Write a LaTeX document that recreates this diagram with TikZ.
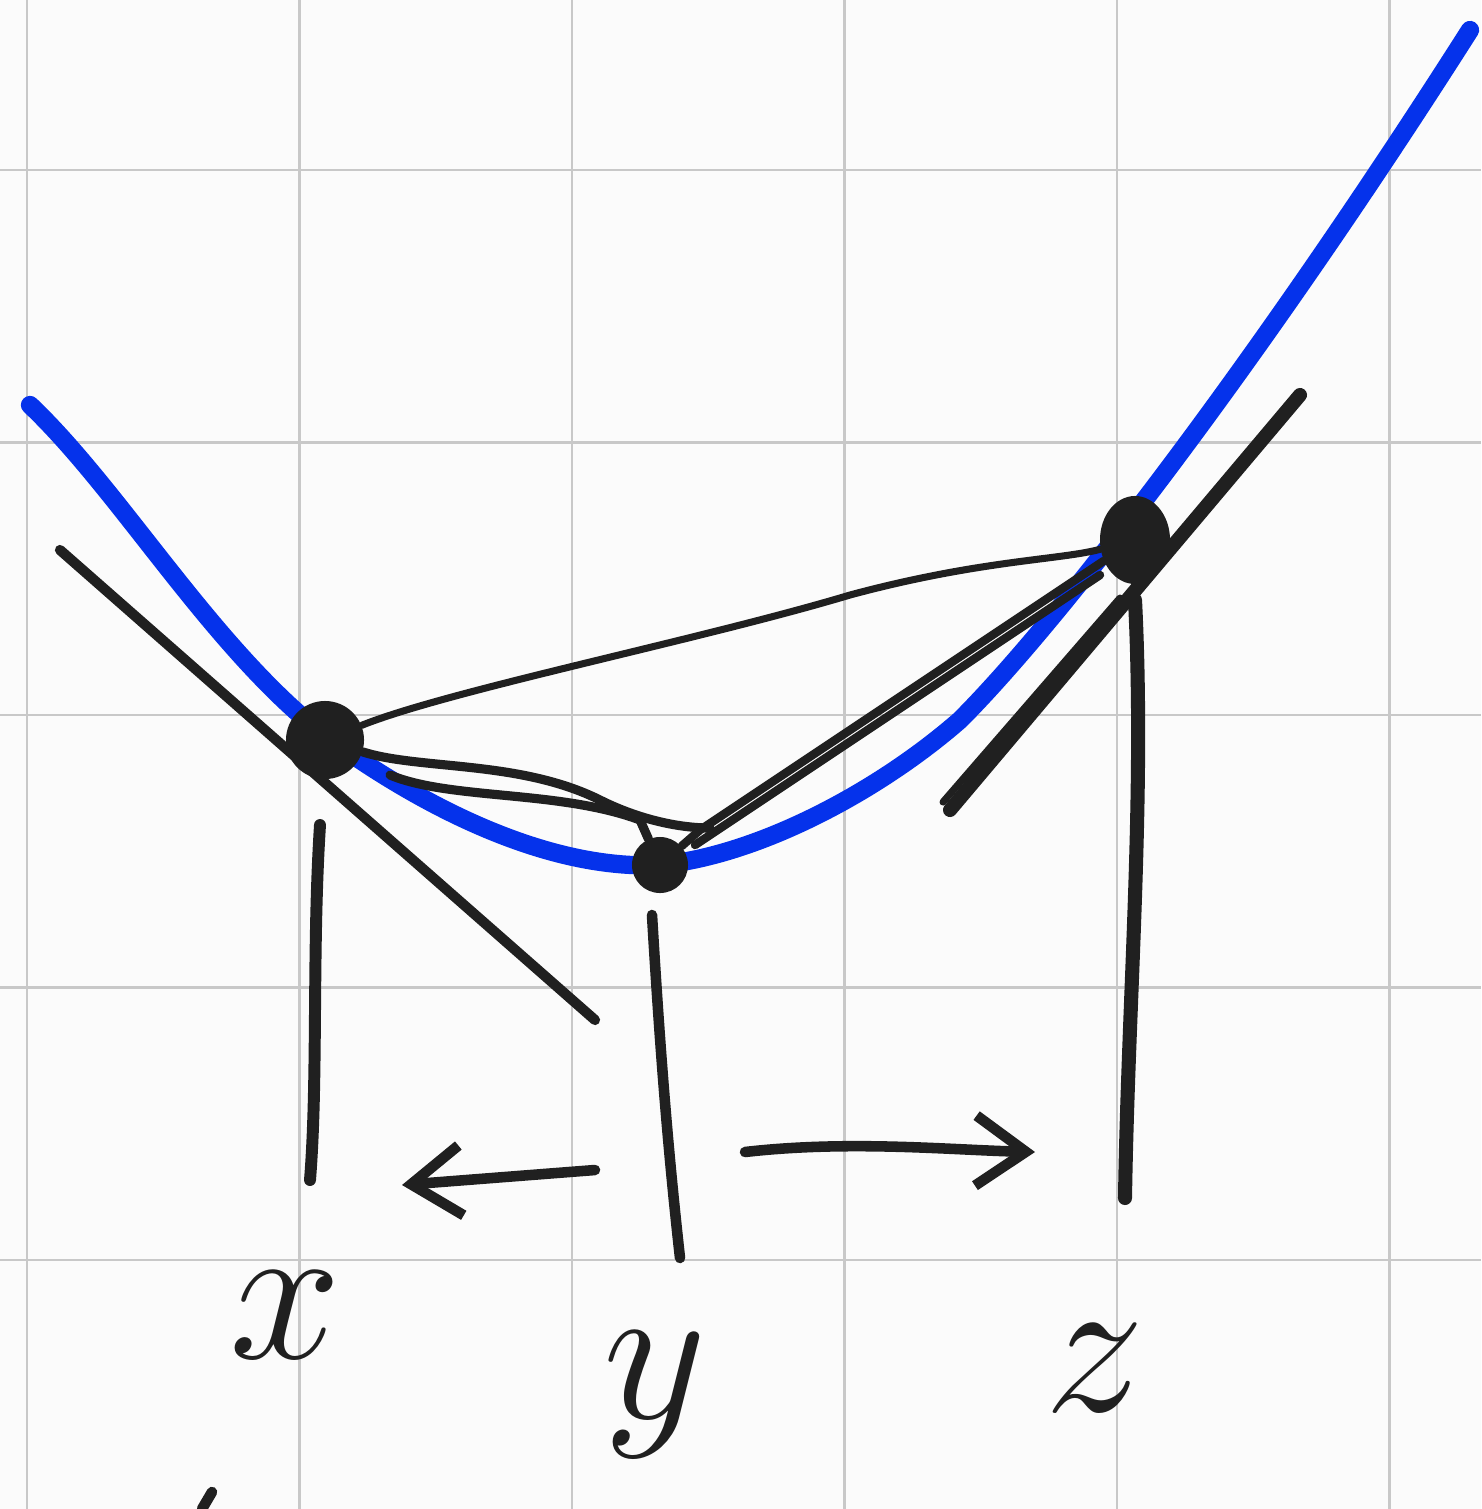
\documentclass[tikz,border=0pt]{standalone}
\usepackage{amsmath,amssymb}
\usepackage{tikz}
\usetikzlibrary{arrows.meta,calc,shapes.geometric}
\definecolor{paper}{RGB}{251,251,251}
\definecolor{gridc}{RGB}{200,200,200}
\definecolor{ink}{RGB}{32,32,32}
\definecolor{pen}{RGB}{5,50,235}

\begin{document}
\begin{tikzpicture}[
  x=0.01cm,y=-0.01cm,
  gl/.style={gridc,line width=0.8pt},
  fn/.style={pen,line width=5.2pt,line cap=round,line join=round},
  tg/.style={ink,line width=2.9pt,line cap=round},
  sec/.style={ink,line width=2pt,line cap=round},
  vl/.style={ink,line width=3.4pt,line cap=round},
  pt/.style={circle,fill=ink,inner sep=0pt},
  lbl/.style={ink,font=\Huge,scale=2.3},
  fl/.style={ink,line width=3pt,line cap=round,-{Straight Barb[length=5mm,width=7mm,line width=3pt]}},
]
\useasboundingbox (0,0) rectangle (1481,1509);
\fill[paper] (0,0) rectangle (1481,1509);
% grid
\foreach \gx in {27,299.5,572,844.5,1117,1389.5}
  \draw[gl] (\gx,0) -- (\gx,1509);
\foreach \gy in {170,442.5,715,987.5,1260}
  \draw[gl] (0,\gy) -- (1481,\gy);
% convex function
\draw[fn] (30,405) .. controls (130,500) and (230,680) .. (360,760)
  .. controls (450,820) and (560,870) .. (660,865)
  .. controls (760,855) and (880,790) .. (960,720)
  .. controls (1060,620) and (1260,360) .. (1470,30);
% points on the curve
\node[pt,minimum size=0.78cm] (px) at (325,740) {};
\node[pt,minimum size=0.56cm] (py) at (660,865) {};
\node[pt,ellipse,minimum width=0.70cm,minimum height=0.88cm] (pz) at (1135,540) {};
% tangent lines
\coordinate (tx1) at (60,550);
\coordinate (tx2) at (595,1020);
\draw[tg] (tx1) -- (tx2);
\coordinate (tz1) at (950,810);
\coordinate (tz2) at (1300,395);
\draw[tg,line width=4pt] (tz1) -- (tz2);
\draw[sec] (943,802) -- (1120,598);
% secants
\draw[sec] (px) .. controls (450,690) and (700,640) .. (850,595)
  .. controls (980,560) and (1060,560) .. (pz);
\draw[sec,line width=2.6pt] (px) .. controls (420,770) and (520,760) .. (600,800)
  .. controls (640,820) and (680,828) .. (710,828);
\draw[sec,line width=2.6pt] (390,775) .. controls (450,800) and (560,790) .. (640,820)
  -- (py);
\draw[sec,line width=2.4pt] (py) -- (700,830) -- (pz);
\draw[sec,line width=2.4pt] (695,845) -- (1100,575);
% verticals down to the axis
\coordinate (vx1) at (320,825);
\coordinate (vx2) at (310,1180);
\draw[vl] (vx1) .. controls (312,950) and (318,1080) .. (vx2);
\coordinate (vy1) at (652,915);
\coordinate (vy2) at (680,1258);
\draw[vl,line width=3pt] (vy1) .. controls (660,1050) and (668,1150) .. (vy2);
\coordinate (vz1) at (1135,600);
\coordinate (vz2) at (1125,1198);
\draw[vl,line width=4pt] (vz1) .. controls (1145,800) and (1128,1000) .. (vz2);
% moving apart
\coordinate (al1) at (595,1170);
\coordinate (al2) at (402,1185);
\draw[fl] (al1) -- (al2);
\coordinate (ar1) at (745,1152);
\coordinate (ar2) at (1035,1152);
\draw[fl] (ar1) .. controls (850,1140) and (950,1150) .. (ar2);
% labels
\node[lbl] (lx) at (285,1315) {$x$};
\node[lbl] (ly) at (655,1395) {$y$};
\node[lbl] (lz) at (1095,1368) {$z$};
\draw[vl,line width=3pt] (202,1509) -- (212,1492);
\end{tikzpicture}
\end{document}
